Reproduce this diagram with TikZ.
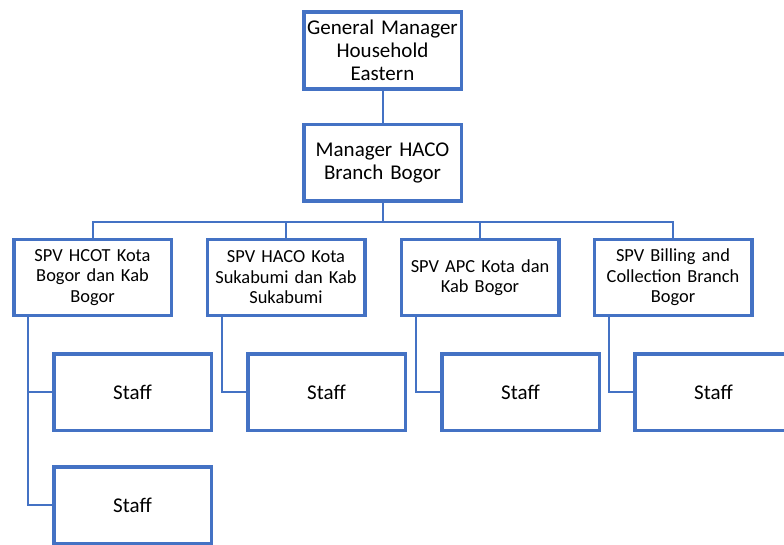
\documentclass[tikz,border=0pt]{standalone}
\usepackage{fontspec}
\setmainfont{Carlito}
\definecolor{orgblue}{HTML}{4472C4}
\tikzset{
  x=1pt, y=-1pt,
  orgbox/.style={draw=orgblue, line width=3.5pt, fill=white, align=center,
    minimum width=157.5pt, inner sep=2pt, text width=152pt},
  topbox/.style={orgbox, minimum height=77pt, font=\fontsize{21}{23}\selectfont},
  spvbox/.style={orgbox, minimum height=75.5pt, font=\fontsize{18.4}{20.5}\selectfont},
  staffbox/.style={orgbox, minimum height=76.5pt, font=\fontsize{21}{23}\selectfont},
  link/.style={draw=orgblue, line width=2pt},
}
\begin{document}
\begin{tikzpicture}
\useasboundingbox (0,0) rectangle (784,545);
\clip (0,0) rectangle (784,545);

% rails for the horizontal bus and the staff branches
\coordinate (bus) at (0,222);
\coordinate (r1) at (28,0);
\coordinate (r2) at (221.5,0);
\coordinate (r3) at (415.5,0);
\coordinate (r4) at (608.5,0);

% boxes (positions only; drawn again on top of the links below)
\path
  (382.5,50.5) node[topbox] (gm) {General Manager\\Household\\Eastern}
  (382.5,163) node[topbox, minimum height=76.5pt] (mgr) {Manager HACO\\Branch Bogor}
  (92.5,277.5) node[spvbox] (spv1) {SPV HCOT Kota\\Bogor dan Kab\\Bogor}
  (286,277.5) node[spvbox] (spv2) {SPV HACO Kota\\Sukabumi dan Kab\\Sukabumi}
  (480,277.5) node[spvbox] (spv3) {SPV APC Kota dan\\Kab Bogor}
  (673,277.5) node[spvbox] (spv4) {SPV Billing and\\Collection Branch\\Bogor}
  (132.5,392) node[staffbox] (s1a) {Staff}
  (132.5,505) node[staffbox] (s1b) {Staff}
  (326.5,392) node[staffbox] (s2) {Staff}
  (520.5,392) node[staffbox] (s3) {Staff}
  (713.5,392) node[staffbox] (s4) {Staff};

% connectors
\draw[link] (gm.south) -- (mgr.north);
\foreach \s in {spv1,spv2,spv3,spv4}
  \draw[link] (mgr.south) -- (mgr.south |- bus) -| (\s.north);
\draw[link] (spv1.south -| r1) |- (s1a.west);
\draw[link] (spv1.south -| r1) |- (s1b.west);
\draw[link] (spv2.south -| r2) |- (s2.west);
\draw[link] (spv3.south -| r3) |- (s3.west);
\draw[link] (spv4.south -| r4) |- (s4.west);

% redraw boxes over the connector ends
\path
  (382.5,50.5) node[topbox] {General Manager\\Household\\Eastern}
  (382.5,163) node[topbox, minimum height=76.5pt] {Manager HACO\\Branch Bogor}
  (92.5,277.5) node[spvbox] {SPV HCOT Kota\\Bogor dan Kab\\Bogor}
  (286,277.5) node[spvbox] {SPV HACO Kota\\Sukabumi dan Kab\\Sukabumi}
  (480,277.5) node[spvbox] {SPV APC Kota dan\\Kab Bogor}
  (673,277.5) node[spvbox] {SPV Billing and\\Collection Branch\\Bogor}
  (132.5,392) node[staffbox] {Staff}
  (132.5,505) node[staffbox] {Staff}
  (326.5,392) node[staffbox] {Staff}
  (520.5,392) node[staffbox] {Staff}
  (713.5,392) node[staffbox] {Staff};
\end{tikzpicture}
\end{document}
